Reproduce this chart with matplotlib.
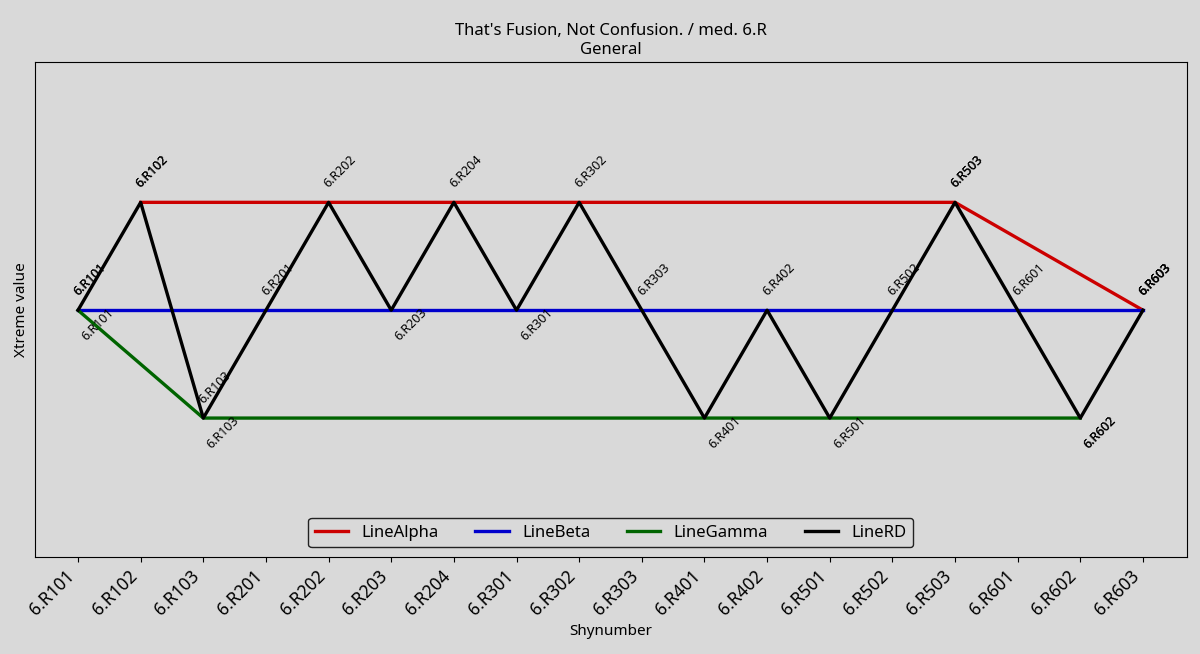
import matplotlib
matplotlib.use("Agg")
import matplotlib.pyplot as plt

plt.rcParams["font.family"] = ["Noto Sans", "DejaVu Sans"]

categories = ["6.R101", "6.R102", "6.R103", "6.R201", "6.R202", "6.R203",
              "6.R204", "6.R301", "6.R302", "6.R303", "6.R401", "6.R402",
              "6.R501", "6.R502", "6.R503", "6.R601", "6.R602", "6.R603"]

alpha_x = ["6.R102", "6.R503", "6.R603"]
alpha_y = [1, 1, 0]

beta_x = ["6.R101", "6.R603"]
beta_y = [0, 0]

gamma_x = ["6.R101", "6.R103", "6.R602"]
gamma_y = [0, -1, -1]

rd_x = categories
rd_y = [0, 1, -1, 0, 1, 0, 1, 0, 1, 0, -1, 0, -1, 0, 1, 0, -1, 0]
# which side of the point each LineRD label sits on
rd_side = ["up", "up", "up", "up", "up", "down", "up", "down", "up", "up",
           "down", "up", "down", "up", "up", "up", "down", "up"]

series = [
    ("LineAlpha", alpha_x, alpha_y, "#cc0000", ["up"] * len(alpha_x)),
    ("LineBeta", beta_x, beta_y, "#0000cc", ["up"] * len(beta_x)),
    ("LineGamma", gamma_x, gamma_y, "#006400", ["down"] * len(gamma_x)),
    ("LineRD", rd_x, rd_y, "black", rd_side),
]

bg = "#d9d9d9"
fig = plt.figure(figsize=(12, 6.54), dpi=100, facecolor=bg)
ax = fig.add_axes([0.029, 0.148, 0.96, 0.757], facecolor=bg)

pos = {c: i for i, c in enumerate(categories)}

for name, xs, ys, color, sides in series:
    xi = [pos[c] for c in xs]
    ax.plot(xi, ys, color=color, linewidth=2.4, label=name)
    for c, x, y, s in zip(xs, xi, ys, sides):
        if s == "up":
            ax.annotate(c, (x, y), xytext=(-5, 8.5), textcoords="offset points",
                        rotation=45, ha="left", va="bottom", fontsize=9)
        else:
            ax.annotate(c, (x, y), xytext=(1, 3), textcoords="offset points",
                        rotation=45, ha="left", va="top", fontsize=9)

ax.set_xticks(range(len(categories)))
ax.set_xticklabels(categories, rotation=45, ha="right", fontsize=12.5)
ax.set_yticks([])
ax.set_xlim(-0.69, len(categories) - 1 + 0.7)
ax.set_ylim(-2.29, 2.3)

ax.set_xlabel("Shynumber", fontsize=11)
ax.set_ylabel("Xtreme value", fontsize=11)
ax.set_title("That's Fusion, Not Confusion. / med. 6.R\nGeneral", fontsize=12)

leg = ax.legend(loc="lower center", ncol=4, fontsize=12, facecolor=bg,
                edgecolor="#222222", framealpha=1, handlelength=2.0,
                columnspacing=2.2, borderaxespad=0.6)
leg.get_frame().set_linewidth(1.0)

fig.savefig("out.png", dpi=100, facecolor=bg)
